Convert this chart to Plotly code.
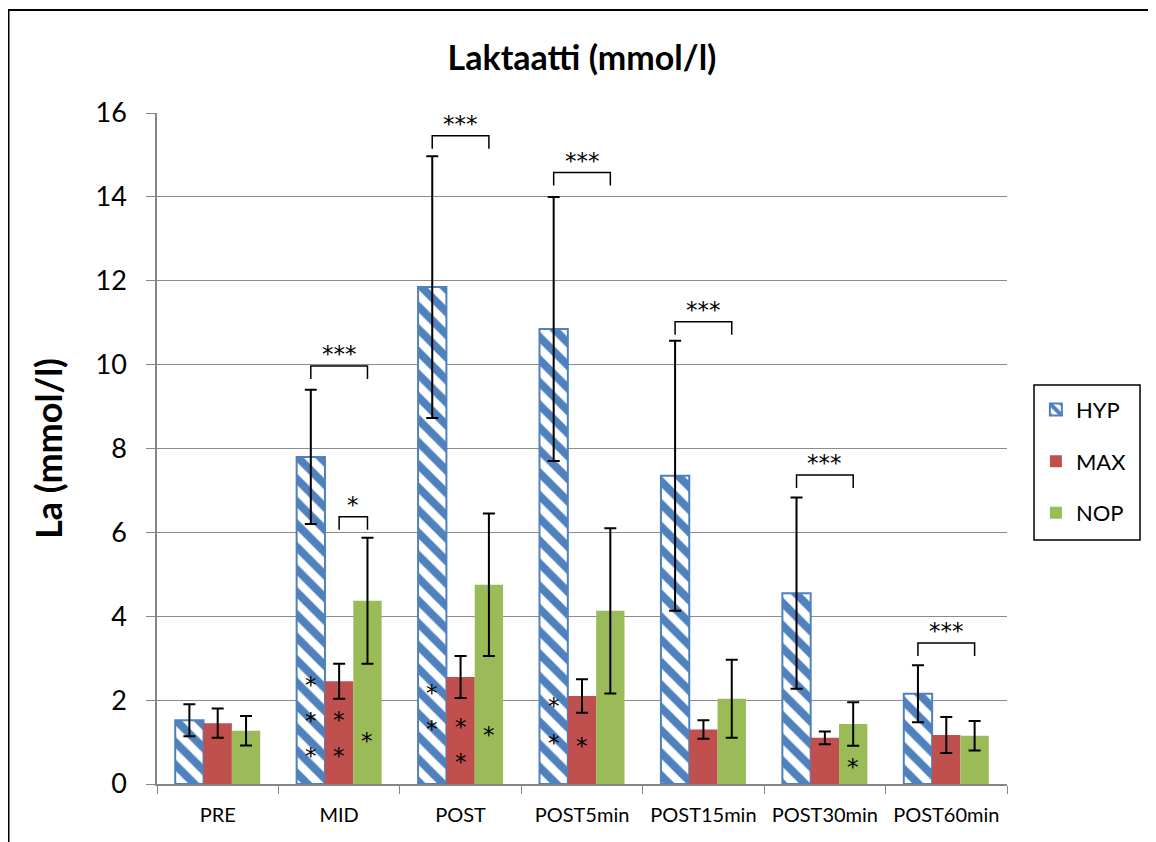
import plotly.graph_objects as go

categories = ["PRE", "MID", "POST", "POST5min", "POST15min", "POST30min", "POST60min"]
series_names = ["HYP", "MAX", "NOP"]
hyp = [1.52, 7.80, 11.85, 10.85, 7.35, 4.55, 2.15]
hyp_err = [0.38, 1.60, 3.12, 3.15, 3.22, 2.28, 0.68]
mx = [1.45, 2.45, 2.55, 2.10, 1.30, 1.10, 1.17]
mx_err = [0.35, 0.42, 0.50, 0.40, 0.22, 0.15, 0.43]
nop = [1.27, 4.37, 4.75, 4.13, 2.03, 1.43, 1.15]
nop_err = [0.35, 1.50, 1.70, 1.97, 0.93, 0.52, 0.35]

# significance brackets: (category index, from series, to series, height, label)
bracket_cat = [1, 1, 2, 3, 4, 5, 6]
bracket_from = [0, 1, 0, 0, 0, 0, 0]
bracket_to = [2, 2, 2, 2, 2, 2, 2]
bracket_y = [9.97, 6.37, 15.46, 14.58, 11.02, 7.37, 3.36]
bracket_label = ["***", "*", "***", "***", "***", "***", "***"]

# asterisks inside bars: (category index, series index, y value)
star_cat = [1, 1, 1, 1, 1, 1, 2, 2, 2, 2, 2, 3, 3, 3, 5]
star_ser = [0, 0, 0, 1, 1, 2, 0, 0, 1, 1, 2, 0, 0, 1, 2]
star_y = [2.43, 1.57, 0.74, 1.60, 0.74, 1.10, 2.24, 1.38, 1.43, 0.60, 1.24, 1.93, 1.05, 0.98, 0.48]

BLUE = "#4F81BD"
RED = "#C0504D"
GREEN = "#9BBB59"
FONT = "Lato"
STARFONT = "DejaVu Sans"

bargap = 0.3
bw = (1 - bargap) / 3
offs = [-bw, 0.0, bw]

fig = go.Figure()
err_style = dict(type="data", color="black", thickness=2, width=6)
fig.add_trace(go.Bar(
    x=categories, y=hyp, name=series_names[0], legendgroup="a",
    error_y=dict(array=hyp_err, **err_style),
    marker=dict(color="white", line=dict(color=BLUE, width=2),
                pattern=dict(shape="\\", fgcolor=BLUE, bgcolor="white", fgopacity=1,
                             size=16, solidity=0.5)),
))
fig.add_trace(go.Bar(
    x=categories, y=mx, name=series_names[1], legendgroup="b",
    error_y=dict(array=mx_err, **err_style),
    marker=dict(color=RED, line=dict(width=0)),
))
fig.add_trace(go.Bar(
    x=categories, y=nop, name=series_names[2], legendgroup="c",
    error_y=dict(array=nop_err, **err_style),
    marker=dict(color=GREEN, line=dict(width=0)),
))

shapes = []
annotations = []
drop = 0.31
for c, f, t, yv, lab in zip(bracket_cat, bracket_from, bracket_to, bracket_y, bracket_label):
    x0 = c + offs[f]
    x1 = c + offs[t]
    shapes.append(dict(type="path", xref="x", yref="y",
                       path=f"M {x0},{yv - drop} L {x0},{yv} L {x1},{yv} L {x1},{yv - drop}",
                       line=dict(color="black", width=1.5)))
    annotations.append(dict(x=(x0 + x1) / 2, y=yv, xref="x", yref="y", text=lab,
                            showarrow=False, yanchor="bottom", yshift=-3,
                            font=dict(family=STARFONT, size=23, color="black")))

for c, s, yv in zip(star_cat, star_ser, star_y):
    annotations.append(dict(x=c + offs[s], y=yv, xref="x", yref="y", text="*",
                            showarrow=False, yanchor="middle", yshift=-3,
                            font=dict(family=STARFONT, size=23, color="black")))

# outer chart border
shapes.append(dict(type="rect", xref="paper", yref="paper",
                   x0=-0.1747, x1=1.3, y0=-0.2, y1=1.1535,
                   line=dict(color="black", width=2), layer="above"))
# legend frame
shapes.append(dict(type="rect", xref="paper", yref="paper",
                   x0=1.0318, x1=1.1565, y0=0.3636, y1=0.5946,
                   line=dict(color="black", width=1.5)))

fig.update_layout(
    width=1156, height=842,
    margin=dict(l=149, r=157, t=105, b=66),
    paper_bgcolor="white", plot_bgcolor="white",
    barmode="group", bargap=bargap, bargroupgap=0,
    title=dict(text="<b>Laktaatti (mmol/l)</b>", x=0.5, xref="paper", y=0.9406, yref="container",
               yanchor="middle", font=dict(family=FONT, size=34, color="black")),
    font=dict(family=FONT, color="black"),
    xaxis=dict(type="category", tickson="boundaries", ticks="outside", ticklen=8,
               tickcolor="#868686", showline=True, linecolor="#868686", linewidth=1.5,
               tickfont=dict(family=FONT, size=20, color="black"), showgrid=False,
               ticklabelstandoff=12),
    yaxis=dict(range=[0, 16], dtick=2, ticks="outside", ticklen=9, tickcolor="#868686",
               showline=True, linecolor="#868686", linewidth=1.5,
               showgrid=True, gridcolor="#8c8c8c", gridwidth=1.2, zeroline=False,
               tickfont=dict(family=FONT, size=27, color="black"), ticklabelstandoff=14,
               title=dict(text="<b>La (mmol/l)</b>", font=dict(family=FONT, size=36, color="black"),
                          standoff=22)),
    legend=dict(x=1.034, y=0.589, xanchor="left", yanchor="top",
                borderwidth=0, bgcolor="rgba(0,0,0,0)",
                font=dict(family=FONT, size=22, color="black"),
                tracegroupgap=20, traceorder="grouped", itemwidth=30),
    shapes=shapes, annotations=annotations,
)

fig.write_html("out.html")
